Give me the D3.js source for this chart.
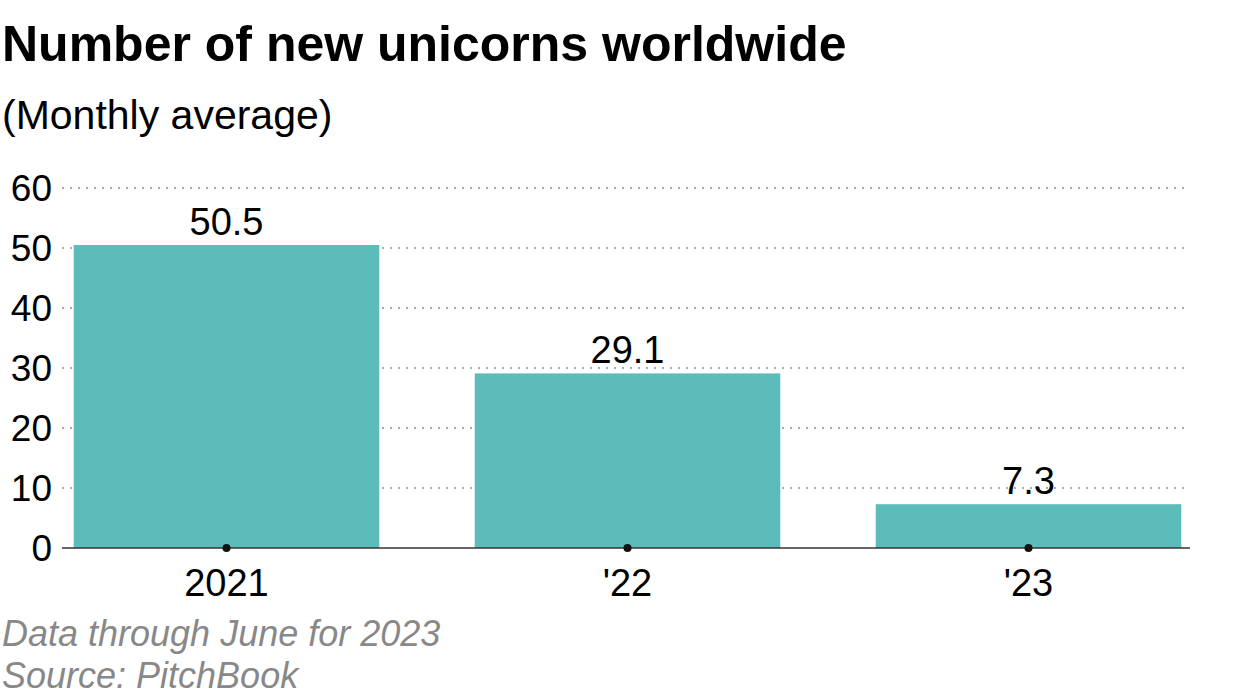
<!DOCTYPE html>
<html><head><meta charset="utf-8">
<script src="https://cdn.jsdelivr.net/npm/d3@7"></script>
<style>body{margin:0;background:#fff;font-family:"Liberation Sans",Arial,sans-serif}</style>
</head><body>
<svg id="chart" width="1237" height="696"></svg>
<script>
// data
const years = ["2021", "'22", "'23"];
const values = [50.5, 29.1, 7.3];
const yTicks = [0, 10, 20, 30, 40, 50, 60];

const svg = d3.select("#chart");
const y = d3.scaleLinear().domain([0, 60]).range([548, 188]);
const x = d3.scaleBand().domain(years).range([26, 1229]).paddingInner(0.238).paddingOuter(0.119);

svg.append("text").attr("x", 2).attr("y", 61).attr("font-size", 50).attr("font-weight", "bold").text("Number of new unicorns worldwide");
svg.append("text").attr("x", 2).attr("y", 129).attr("font-size", 41).text("(Monthly average)");

// grid
svg.selectAll(".grid").data(yTicks.slice(1)).join("line")
  .attr("x1", 62).attr("x2", 1190).attr("y1", d => y(d)).attr("y2", d => y(d))
  .attr("stroke", "#aaa").attr("stroke-width", 2).attr("stroke-dasharray", "2,6");
svg.selectAll(".ytick").data(yTicks).join("text")
  .attr("x", 52).attr("y", d => y(d) + 13).attr("text-anchor", "end").attr("font-size", 37).text(d => d);

// bars
svg.selectAll(".bar").data(values).join("rect")
  .attr("x", (d, i) => x(years[i])).attr("width", x.bandwidth())
  .attr("y", d => y(d)).attr("height", d => y(0) - y(d)).attr("fill", "#5bbcba");
svg.selectAll(".val").data(values).join("text")
  .attr("x", (d, i) => x(years[i]) + x.bandwidth() / 2).attr("y", d => y(d) - 10)
  .attr("text-anchor", "middle").attr("font-size", 38).text(d => d);

svg.append("line").attr("x1", 62).attr("x2", 1190).attr("y1", y(0)).attr("y2", y(0)).attr("stroke", "#333").attr("stroke-width", 1.5);
svg.selectAll(".dot").data(years).join("circle")
  .attr("cx", d => x(d) + x.bandwidth() / 2).attr("cy", y(0)).attr("r", 4).attr("fill", "#111");
svg.selectAll(".xl").data(years).join("text")
  .attr("x", d => x(d) + x.bandwidth() / 2).attr("y", 596).attr("text-anchor", "middle").attr("font-size", 38).text(d => d);

svg.append("text").attr("x", 2).attr("y", 646).attr("font-size", 36).attr("font-style", "italic").attr("fill", "#888").text("Data through June for 2023");
svg.append("text").attr("x", 2).attr("y", 688).attr("font-size", 36).attr("font-style", "italic").attr("fill", "#888").text("Source: PitchBook");
</script>
</body></html>
